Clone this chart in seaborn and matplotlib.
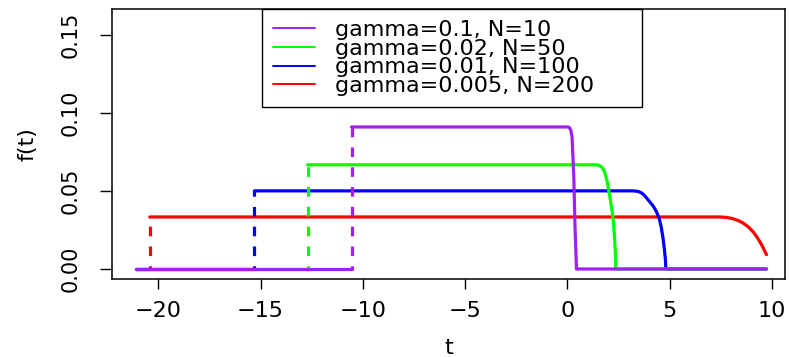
import matplotlib
matplotlib.use("Agg")
import matplotlib.pyplot as plt
from matplotlib.lines import Line2D
import seaborn as sns
import pandas as pd

# ---- data ----
labels = ["gamma=0.1, N=10", "gamma=0.02, N=50", "gamma=0.01, N=100", "gamma=0.005, N=200"]
colors = ["#A020F0", "#00FF00", "#0000FF", "#FF0000"]
t_start = -21.1
t_end = 9.74
levels = [0.0909, 0.0667, 0.0500, 0.0333]
jumps = [-10.55, -12.70, -15.30, -20.42]

purple_t = [0.04, 0.12, 0.18, 0.235, 0.32, 0.38, 0.45]
purple_f = [0.0909, 0.0903, 0.0885, 0.0843, 0.0587, 0.0266, 0.0]
green_t = [1.43, 1.58, 1.70, 1.80, 1.88, 1.96, 2.03, 2.11, 2.19, 2.26, 2.31, 2.35, 2.37]
green_f = [0.0667, 0.0662, 0.0650, 0.0630, 0.0597, 0.0555, 0.0501, 0.0440, 0.0373, 0.0295, 0.0202, 0.0110, 0.0]
blue_t = [3.20, 3.45, 3.62, 3.79, 3.97, 4.19, 4.35, 4.49, 4.59, 4.68, 4.75, 4.80, 4.82]
blue_f = [0.0500, 0.0497, 0.0488, 0.0469, 0.0440, 0.0405, 0.0370, 0.0325, 0.0272, 0.0200, 0.0125, 0.0060, 0.0]
red_t = [7.45, 7.80, 8.10, 8.40, 8.65, 8.90, 9.10, 9.30, 9.50, 9.74]
red_f = [0.0333, 0.0330, 0.0322, 0.0308, 0.0290, 0.0264, 0.0236, 0.0200, 0.0156, 0.0092]

decl_t = [purple_t, green_t, blue_t, red_t]
decl_f = [purple_f, green_f, blue_f, red_f]

x_ticks = [-20, -15, -10, -5, 0, 5, 10]
x_ticklabels = ["\u221220", "\u221215", "\u221210", "\u22125", "0", "5", "10"]
y_ticks = [0.00, 0.05, 0.10, 0.15]
y_ticklabels = ["0.00", "0.05", "0.10", "0.15"]

# ---- build the table of solid segments ----
rows = []
for i, lab in enumerate(labels):
    rows.append((lab, f"{lab}-a", 0, t_start, 0.0))
    rows.append((lab, f"{lab}-a", 1, jumps[i], 0.0))
    seg = f"{lab}-b"
    rows.append((lab, seg, 0, jumps[i], levels[i]))
    for k, (tt, ff) in enumerate(zip(decl_t[i], decl_f[i])):
        rows.append((lab, seg, k + 1, tt, ff))
    if decl_f[i][-1] == 0.0:
        rows.append((lab, seg, len(decl_t[i]) + 1, t_end, 0.0))
df = pd.DataFrame(rows, columns=["series", "seg", "order", "t", "f"])

sns.set_theme(style="ticks")
plt.rcParams["font.family"] = ["DejaVu Sans"]
plt.rcParams["text.color"] = "black"
plt.rcParams["axes.labelcolor"] = "black"
plt.rcParams["xtick.color"] = "black"
plt.rcParams["ytick.color"] = "black"

fig = plt.figure(figsize=(7.89, 3.57), dpi=100)
ax = fig.add_axes([0.1423, 0.2185, 0.995 - 0.1423, 0.9748 - 0.2185])

pal = dict(zip(labels, colors))
for i in reversed(range(len(labels))):
    lab = labels[i]
    sub = df[df["series"] == lab]
    sns.lineplot(data=sub, x="t", y="f", units="seg", estimator=None, sort=False,
                 color=pal[lab], lw=2.3, ax=ax, legend=False)
    dd = pd.DataFrame({"t": [jumps[i], jumps[i]], "f": [0.0, levels[i]]})
    sns.lineplot(data=dd, x="t", y="f", estimator=None, sort=False, color=pal[lab],
                 lw=2.3, ax=ax, legend=False)
    ax.lines[-1].set_linestyle((2.0, (3.0, 3.2)))

ax.set_xlim(-22.25, 10.65)
ax.set_ylim(-0.0064, 0.1664)
ax.set_xticks(x_ticks)
ax.set_xticklabels(x_ticklabels)
ax.set_yticks(y_ticks)
ax.set_yticklabels(y_ticklabels, rotation=90, va="center")
ax.tick_params(axis="x", length=7, width=1, pad=9, labelsize=16, colors="black")
ax.tick_params(axis="y", length=8.5, width=1, pad=14, labelsize=15, colors="black")
ax.set_xlabel("t", fontsize=16, labelpad=12, color="black")
ax.set_ylabel("f(t)", fontsize=16, labelpad=17, color="black")
for s in ax.spines.values():
    s.set_color("black")
    s.set_linewidth(1.1)
    s.set_visible(True)

handles = [Line2D([0], [0], color=c, lw=1.4) for c in colors]
leg = ax.legend(handles, labels, loc="upper left",
                bbox_to_anchor=(0.2221, 0.6333, 0.5649, 0.3667), mode="expand",
                borderaxespad=0, fontsize=16, frameon=True, fancybox=False,
                edgecolor="black", framealpha=1, borderpad=0.5, labelspacing=-0.06,
                handlelength=1.9, handletextpad=0.9)
leg.get_frame().set_linewidth(1.0)
for txt in leg.get_texts():
    txt.set_color("black")

fig.savefig("out.png", dpi=100)
